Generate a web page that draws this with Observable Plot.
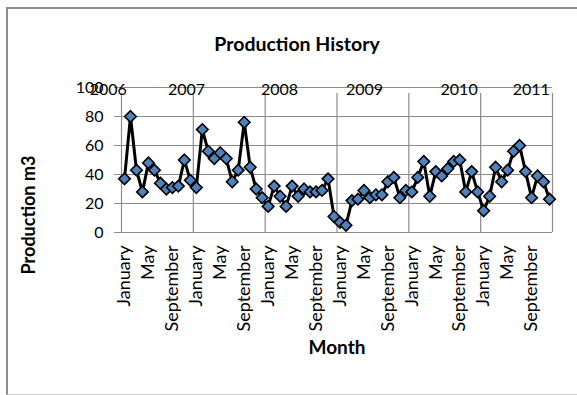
<!DOCTYPE html>
<html>
<head>
<meta charset="utf-8">
<script src="https://cdn.jsdelivr.net/npm/d3@7"></script>
<script src="https://cdn.jsdelivr.net/npm/@observablehq/plot@0.6"></script>
<style>
  body { margin: 0; background: #fff; }
  #chart { position: relative; width: 577px; height: 395px; overflow: hidden; background: #fff; }
  #frame {
    position: absolute; left: 6px; top: 7px; width: 600px; height: 385px;
    border-left: 2px solid #8d8d8d; border-top: 2px solid #8d8d8d; border-bottom: 1px solid #d2d2d2;
  }
  #chart svg { position: absolute; left: 0; top: 0; }
</style>
</head>
<body>
<div id="chart"><div id="frame"></div></div>
<script>
// Monthly production, January 2006 – December 2011
const years = [2006, 2007, 2008, 2009, 2010, 2011];
const monthNames = ["January", "February", "March", "April", "May", "June",
  "July", "August", "September", "October", "November", "December"];
const labelledMonths = ["January", "May", "September"];
const production = [
  37, 80, 43, 28, 48, 43, 34, 30, 31, 32, 50, 36,
  31, 71, 56, 51, 55, 51, 35, 43, 76, 45, 30, 24,
  18, 32, 25, 18, 32, 25, 30, 28, 28, 29, 37, 11,
   7,  5, 22, 23, 29, 24, 26, 26, 35, 38, 24, 29,
  28, 38, 49, 25, 42, 39, 44, 49, 50, 28, 42, 28,
  15, 25, 45, 35, 43, 56, 60, 42, 24, 39, 35, 23
];
const yTicks = [0, 20, 40, 60, 80, 100];

// one row per month, indexed along the category axis
const rows = production.map((value, i) => ({
  i, value, year: years[Math.floor(i / 12)], month: monthNames[i % 12]
}));
const labelledRows = rows.filter(d => labelledMonths.includes(d.month));
const n = rows.length;
// year separators sit between December and January
const yearEdges = years.map((_, k) => k * 12 - 0.5).concat([n - 0.5]);
// year captions along the top of the plot, shifted (in months) from each January
const yearShift = [-2.7, -1.65, 1.9, 4.1, 7.9, 7.95];

const grid = "#8c8c8c";
const font = "Lato, 'Open Sans', sans-serif";

const chart = Plot.plot({
  width: 577,
  height: 395,
  marginLeft: 121,
  marginRight: 25,
  marginTop: 87,
  marginBottom: 163,
  style: { fontFamily: font, fontSize: "16px", color: "#000", background: "transparent", overflow: "visible" },
  x: { domain: [-0.5, n - 0.5], axis: null },
  y: {
    domain: [0, 100],
    ticks: yTicks,
    tickSize: 0,
    tickPadding: 18,
    label: null
  },
  marks: [
    Plot.ruleY(yTicks, { x1: -0.5, x2: n - 0.5, stroke: grid, strokeWidth: 1.2, insetLeft: -7 }),
    Plot.ruleX(yearEdges, { y1: 0, y2: 100, stroke: grid, strokeWidth: 1.2, insetBottom: -6 }),
    // month names, read upwards below the axis
    Plot.text(labelledRows, {
      x: "i", y: 0, dy: 13, text: "month", rotate: -90, textAnchor: "end", fontSize: 18
    }),
    Plot.text(years, {
      x: (d, k) => k * 12 + yearShift[k], y: 100, dy: 2,
      text: d => String(d), fontSize: 16
    }),
    Plot.line(rows, { x: "i", y: "value", stroke: "#000", strokeWidth: 3 }),
    Plot.dot(rows, { x: "i", y: "value", symbol: "diamond2", r: 5.2, fill: "#4f81bd", stroke: "#000", strokeWidth: 1.6 }),
    Plot.text(["Production History"], {
      frameAnchor: "top", dx: -40, dy: -50, text: d => d, fontWeight: "bold", fontSize: 19.5
    }),
    Plot.text(["Month"], {
      frameAnchor: "bottom", dy: 121, text: d => d, fontWeight: "bold", fontSize: 19
    }),
    Plot.text(["Production m3"], {
      frameAnchor: "left", textAnchor: "middle", dx: -92, dy: 55, rotate: -90,
      text: d => d, fontWeight: "bold", fontSize: 18
    })
  ]
});

document.getElementById("chart").appendChild(chart);
</script>
</body>
</html>
